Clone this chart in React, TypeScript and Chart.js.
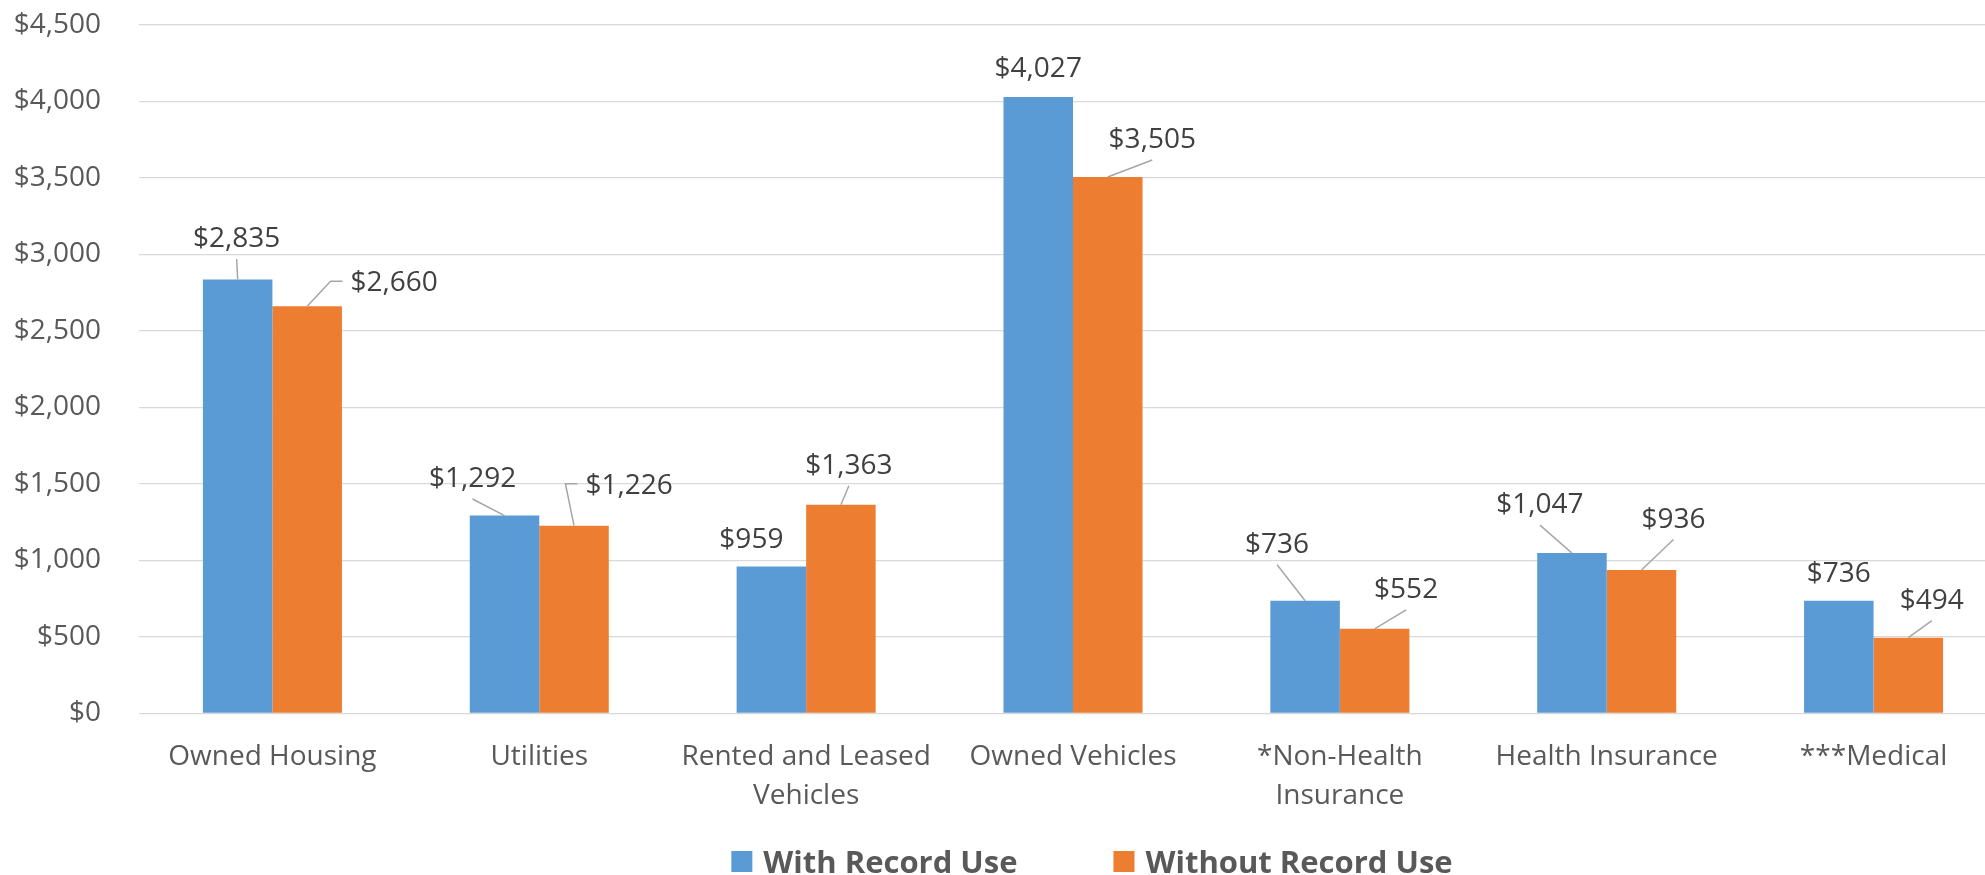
import React, { useEffect, useRef } from "react";
import { Chart, registerables } from "chart.js";

Chart.register(...registerables);

const FONT = "'Open Sans', 'Noto Sans', sans-serif";

const categories: (string | string[])[] = [
  "Owned Housing",
  "Utilities",
  ["Rented and Leased", "Vehicles"],
  "Owned Vehicles",
  ["*Non-Health", "Insurance"],
  "Health Insurance",
  "***Medical",
];
const seriesNames = ["With Record Use", "Without Record Use"];
const withRecordUse = [2835, 1292, 959, 4027, 736, 1047, 736];
const withoutRecordUse = [2660, 1226, 1363, 3505, 552, 936, 494];
const seriesColors = ["#5B9BD5", "#ED7D31"];
const yMin = 0;
const yMax = 4500;
const yStep = 500;

// label placement (dx, baseline dy relative to bar top), styling only
const labelOffsetsWith = [
  [-1, -32.5], [-32, -28.6], [-20, -19], [0, -20], [-28, -48], [-32, -40], [0, -19],
];
const labelOffsetsWithout = [
  [87, -15], [55, -32], [8, -31], [44.5, -29], [31.5, -31], [32, -42.5], [23.5, -29],
];
const labelOffsets = [labelOffsetsWith, labelOffsetsWithout];

const fmt = (v: number) => "$" + Number(v).toLocaleString("en-US");

const dataLabelPlugin = {
  id: "excelDataLabels",
  afterDatasetsDraw(chart: any) {
    const ctx = chart.ctx;
    ctx.save();
    ctx.font = `28px ${FONT}`;
    chart.data.datasets.forEach((ds: any, di: number) => {
      const meta = chart.getDatasetMeta(di);
      const offs = labelOffsets[di];
      meta.data.forEach((bar: any, i: number) => {
        const text = fmt(ds.data[i]);
        const w = ctx.measureText(text).width;
        const cx = bar.x + offs[i][0];
        const base = bar.y + offs[i][1];
        ctx.fillStyle = "#404040";
        ctx.textAlign = "center";
        ctx.textBaseline = "alphabetic";
        ctx.fillText(text, cx, base);
        ctx.strokeStyle = "#A6A6A6";
        ctx.lineWidth = 1.5;
        const left = cx - w / 2;
        if (left > bar.x + 10) {
          const cy = base - 10;
          ctx.beginPath();
          ctx.moveTo(left - 8, cy);
          ctx.lineTo(left - 20, cy);
          ctx.lineTo(bar.x, bar.y);
          ctx.stroke();
        } else if (bar.y - (base + 12) > 10) {
          ctx.beginPath();
          ctx.moveTo(cx, base + 12);
          ctx.lineTo(bar.x, bar.y);
          ctx.stroke();
        }
      });
    });
    ctx.restore();
  },
};

const legendPlugin = {
  id: "customLegend",
  afterDraw(chart: any, _args: any, opts: any) {
    const ctx = chart.ctx;
    ctx.save();
    ctx.font = `bold 31px ${FONT}`;
    const box = 21;
    const gap = 11;
    const itemGap = 96;
    const items = chart.data.datasets.map((ds: any) => ({
      text: ds.label,
      color: ds.backgroundColor,
      w: ctx.measureText(ds.label).width,
    }));
    const total =
      items.reduce((s: number, it: any) => s + box + gap + it.w, 0) +
      itemGap * (items.length - 1);
    let x = opts.centerX - total / 2;
    const y = opts.centerY;
    items.forEach((it: any) => {
      ctx.fillStyle = it.color;
      ctx.fillRect(x, y - box / 2, box, box);
      x += box + gap;
      ctx.fillStyle = "#595959";
      ctx.textAlign = "left";
      ctx.textBaseline = "alphabetic";
      ctx.fillText(it.text, x, y + 11);
      x += it.w + itemGap;
    });
    ctx.restore();
  },
};

export default function App() {
  const ref = useRef<HTMLCanvasElement | null>(null);
  useEffect(() => {
    if (!ref.current) return;
    const chart = new Chart(ref.current, {
      type: "bar",
      data: {
        labels: categories,
        datasets: [
          {
            label: seriesNames[0],
            data: withRecordUse,
            backgroundColor: seriesColors[0],
            categoryPercentage: 0.521,
            barPercentage: 1,
          },
          {
            label: seriesNames[1],
            data: withoutRecordUse,
            backgroundColor: seriesColors[1],
            categoryPercentage: 0.521,
            barPercentage: 1,
          },
        ],
      },
      options: {
        responsive: false,
        animation: false,
        devicePixelRatio: 1,
        layout: { padding: { top: 24.7, right: 3, left: 0, bottom: 0 } },
        plugins: {
          legend: { display: false },
          tooltip: { enabled: false },
          customLegend: { centerX: 1092, centerY: 861.5 },
        } as any,
        scales: {
          x: {
            grid: { display: false, drawTicks: false },
            border: { display: false },
            ticks: {
              color: "#595959",
              font: { family: FONT, size: 28, lineHeight: 1.39 },
              padding: 24,
              maxRotation: 0,
              autoSkip: false,
            },
            afterFit: (scale: any) => {
              scale.height = 161.7;
            },
          },
          y: {
            min: yMin,
            max: yMax,
            grid: {
              color: "#D9D9D9",
              lineWidth: 1.3,
              drawTicks: true,
              tickLength: 38,
              tickColor: "rgba(0,0,0,0)",
            },
            border: { display: false },
            ticks: {
              stepSize: yStep,
              color: "#595959",
              font: { family: FONT, size: 28 },
              padding: 0,
              callback: (v: any) => fmt(Number(v)),
            },
            afterFit: (scale: any) => {
              scale.width = 139;
            },
          },
        },
      },
      plugins: [dataLabelPlugin, legendPlugin],
    });
    return () => chart.destroy();
  }, []);
  return (
    <div
      style={{
        position: "absolute",
        left: 0,
        top: 0,
        width: 1985,
        height: 875,
        overflow: "hidden",
        background: "#ffffff",
      }}
    >
      <canvas ref={ref} width={2010} height={875} style={{ display: "block" }} />
    </div>
  );
}
